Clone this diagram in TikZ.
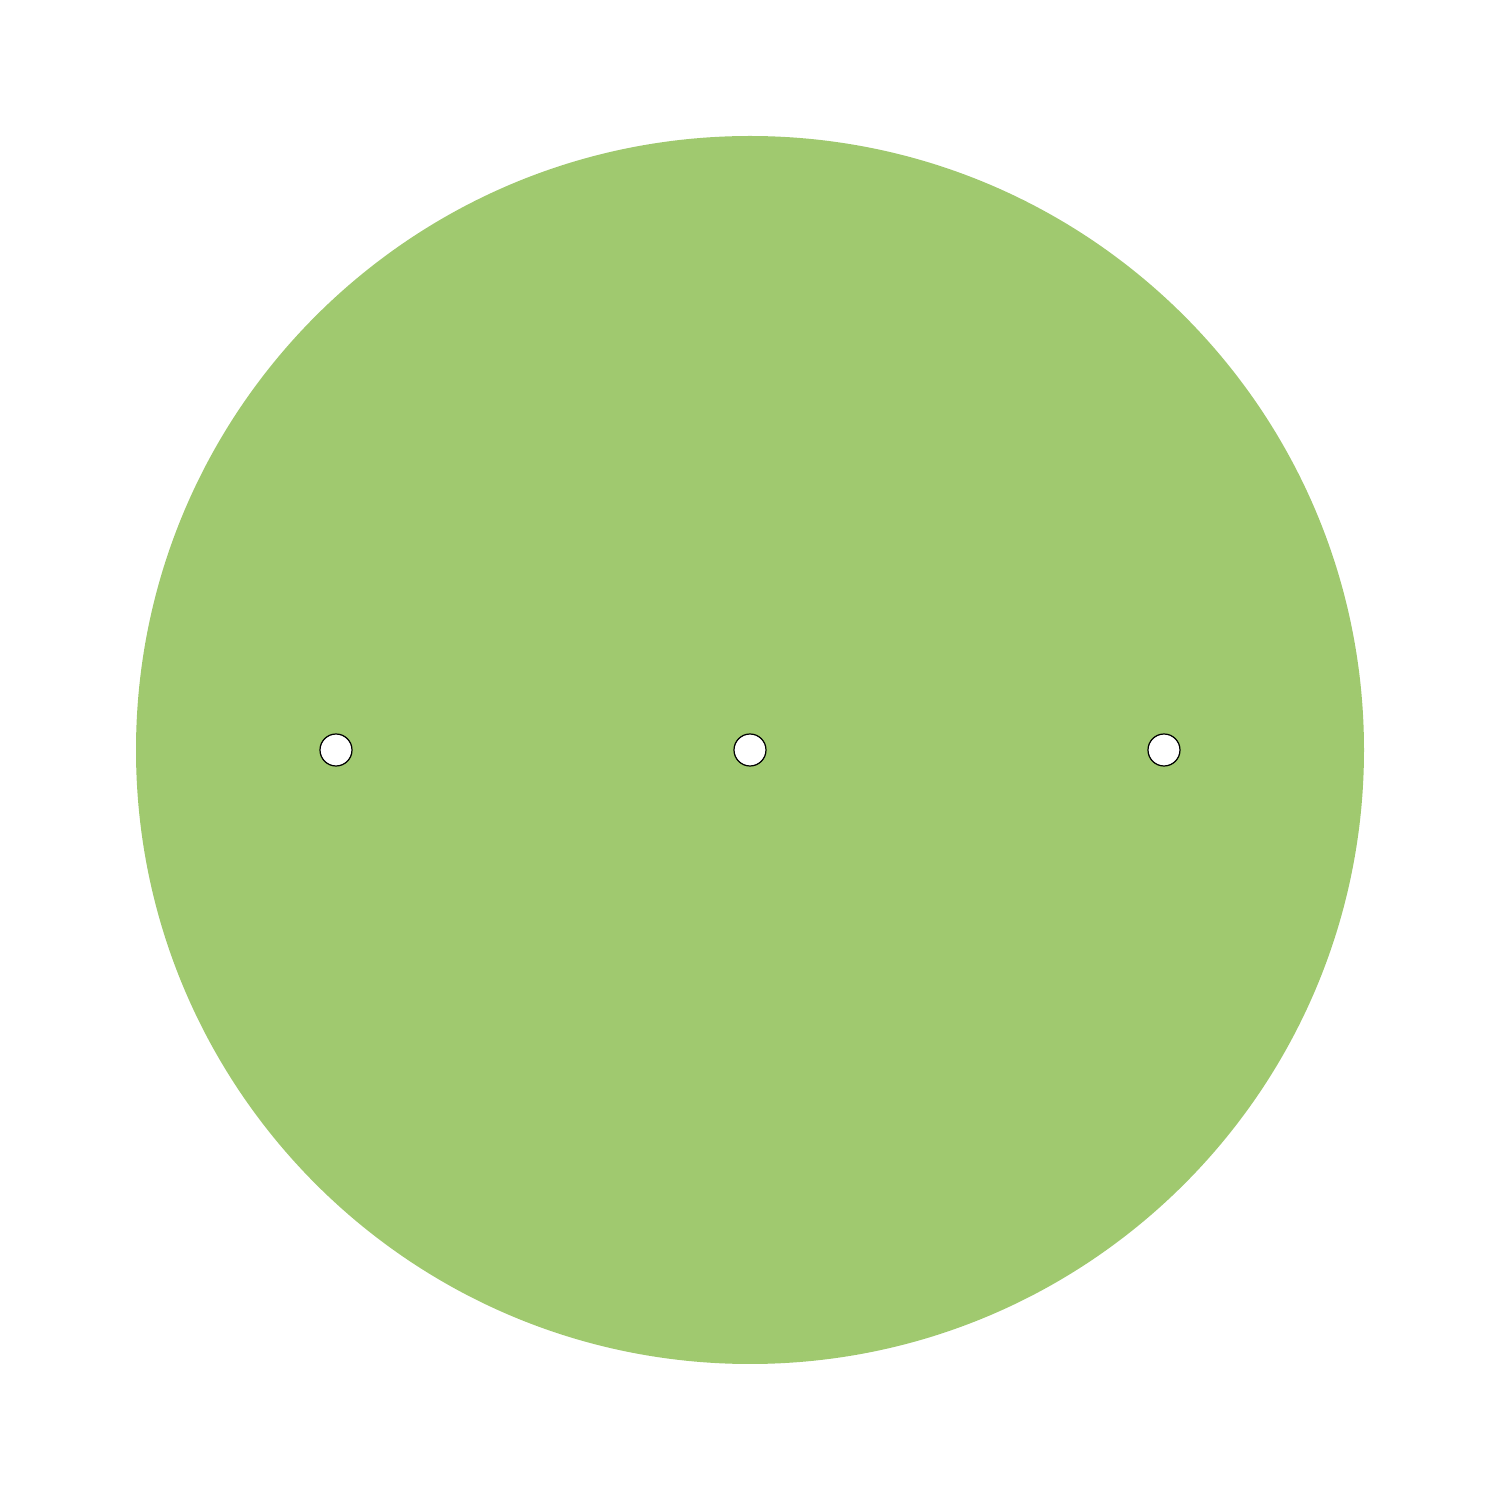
\documentclass[tikz,border=0pt]{standalone}
\usetikzlibrary{positioning}
\definecolor{leafgreen}{HTML}{A0C96F}
\tikzset{
  % For the big disc.
  disc/.style={
    circle,
    fill=leafgreen,
    minimum size=12.28cm,
    inner sep=0pt,
    outer sep=0pt},
%
  % For the holes.
  hole/.style={
    draw,
    circle,
    fill=white,
    line width=0.35pt,
    minimum size=0.32cm,
    inner sep=0pt,
    outer sep=0pt},
}
\begin{document}
\begin{tikzpicture}
  \useasboundingbox (0,0) rectangle (15,15);

  \node[disc] (D) at (7.5,7.5) {};

  \node[hole] (M) at (D.center) {};
  \node[hole] (L) at (3.36,7.5) {};
  \node[hole] (R) at (11.64,7.5) {};
\end{tikzpicture}
\end{document}
